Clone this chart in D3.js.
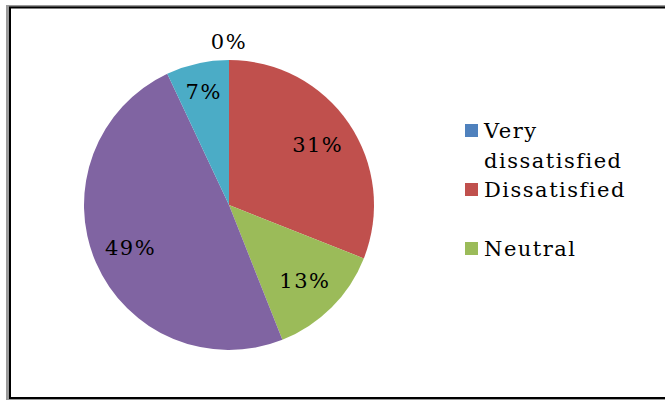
<!DOCTYPE html>
<html lang="en">
<head>
<meta charset="utf-8">
<script src="https://cdn.jsdelivr.net/npm/d3@7"></script>
<style>
  body { margin: 0; background: #fff; }
  text { font-family: "DejaVu Serif", serif; font-size: 21px; letter-spacing: 1.5px; fill: #000; }
</style>
</head>
<body>
<svg width="665" height="400"></svg>
<script>
// satisfaction survey shares (%)
var categories = ["Very dissatisfied", "Dissatisfied", "Neutral", "Satisfied", "Very satisfied"];
var shares = [0, 31, 13, 49, 7];
var colors = ["#4F81BD", "#C0504D", "#9BBB59", "#8064A2", "#4BACC6"];
// legend in the source only lists the first three entries
var legendCount = 3;

var svg = d3.select("svg");

// frame with grey shadow on the left/top
svg.append("rect")
    .attr("x", 6).attr("y", 5)
    .attr("width", 700).attr("height", 395)
    .attr("fill", "#9a9a9a");
svg.append("rect")
    .attr("x", 10).attr("y", 7.5)
    .attr("width", 700).attr("height", 390.5)
    .attr("fill", "#fff")
    .attr("stroke", "#000")
    .attr("stroke-width", 2);

var cx = 229, cy = 205, r = 145;

var pie = d3.pie().sort(null).value(function(d) { return d; });
var arcs = pie(shares);

var arc = d3.arc().innerRadius(0).outerRadius(r);

var g = svg.append("g").attr("transform", "translate(" + cx + "," + cy + ")");

g.selectAll("path")
    .data(arcs)
    .enter().append("path")
    .attr("d", arc)
    .attr("fill", function(d, i) { return colors[i]; });

// label radius: empty slices go outside, thin ones sit a bit further out
function labelR(d) {
    if (d.data === 0) return r * 1.13;
    if (d.data < 10) return r * 0.8;
    return r * 0.74;
}

g.selectAll(".lbl")
    .data(arcs)
    .enter().append("text")
    .attr("class", "lbl")
    .attr("text-anchor", "middle")
    .attr("dy", "0.36em")
    .attr("transform", function(d) {
        var a = (d.startAngle + d.endAngle) / 2, lr = labelR(d);
        return "translate(" + (Math.sin(a) * lr) + "," + (-Math.cos(a) * lr) + ")";
    })
    .text(function(d) { return d.data + "%"; });

// legend
var legendX = 465, legendTop = 124, slot = 59, maxW = 150;

var leg = svg.selectAll(".leg")
    .data(categories.slice(0, legendCount))
    .enter().append("g")
    .attr("class", "leg")
    .attr("transform", function(d, i) { return "translate(" + legendX + "," + (legendTop + i * slot) + ")"; });

leg.append("rect")
    .attr("width", 13).attr("height", 13)
    .attr("y", 0)
    .attr("fill", function(d, i) { return colors[i]; });

leg.each(function(d) {
    var t = d3.select(this).append("text").attr("x", 19).attr("y", 14);
    var words = d.split(" "), line = [];
    var ts = t.append("tspan").attr("x", 19).attr("dy", 0);
    words.forEach(function(w) {
        line.push(w);
        ts.text(line.join(" "));
        if (ts.node().getComputedTextLength() > maxW && line.length > 1) {
            line.pop();
            ts.text(line.join(" "));
            line = [w];
            ts = t.append("tspan").attr("x", 19).attr("dy", 30).text(w);
        }
    });
});
</script>
</body>
</html>
